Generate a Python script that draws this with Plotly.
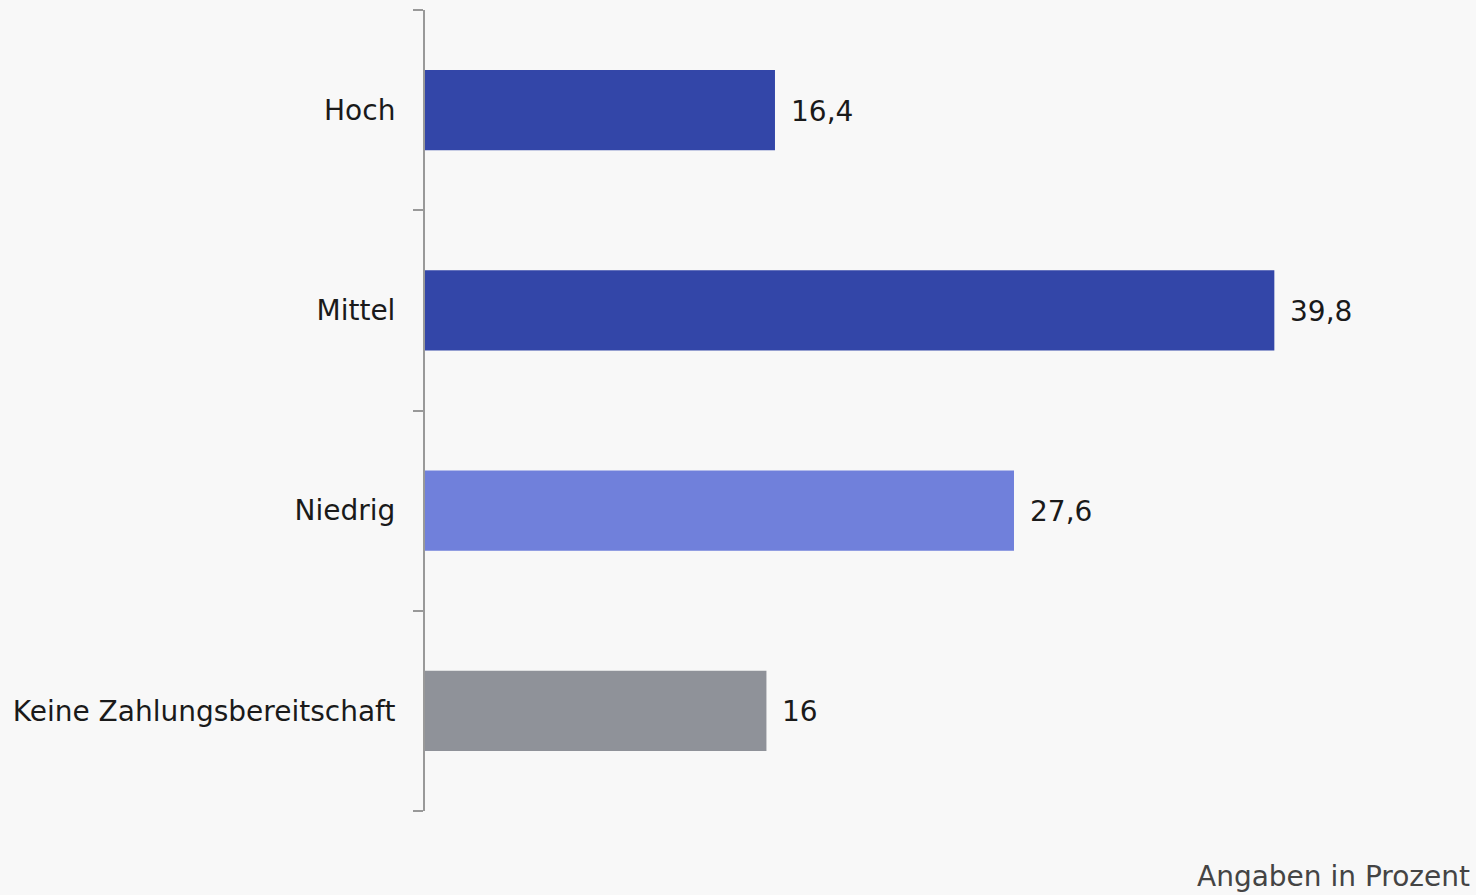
import plotly.graph_objects as go

categories = ["Hoch", "Mittel", "Niedrig", "Keine Zahlungsbereitschaft"]
values = [16.4, 39.8, 27.6, 16.0]
value_labels = ["16,4", "39,8", "27,6", "16"]
colors = ["#3346a8", "#3346a8", "#7080db", "#8f9299"]

FONT = "DejaVu Sans"

fig = go.Figure()
fig.add_trace(go.Bar(
    y=categories, x=values, orientation="h",
    marker=dict(color=colors, line=dict(width=0)),
    width=0.4, hoverinfo="skip",
))

for c, v, t in zip(categories, values, value_labels):
    fig.add_annotation(x=v, y=c, text=t, showarrow=False, xanchor="left",
                       xshift=14, yshift=-1,
                       font=dict(family=FONT, size=28, color="#1a1a1a"))

fig.add_annotation(text="Angaben in Prozent", xref="paper", yref="paper",
                   x=1, y=0, xanchor="right", yanchor="bottom", yshift=-84,
                   showarrow=False, xshift=-4,
                   font=dict(family=FONT, size=28, color="#444444"))

fig.update_layout(
    width=1476, height=895,
    paper_bgcolor="#f8f8f8", plot_bgcolor="#f8f8f8",
    margin=dict(l=425, r=0, t=10, b=84),
    showlegend=False,
    font=dict(family=FONT, size=28, color="#1a1a1a"),
    xaxis=dict(range=[0, 49.25], showgrid=False, zeroline=False,
               showticklabels=False, showline=False, ticks=""),
    yaxis=dict(categoryorder="array", categoryarray=categories[::-1],
               showgrid=False, zeroline=False, showline=True,
               linecolor="#999999", linewidth=2, ticks="outside",
               tickson="boundaries", ticklen=10, tickwidth=2, tickcolor="#999999",
               ticklabelstandoff=22),
)

fig.write_html("out.html")
